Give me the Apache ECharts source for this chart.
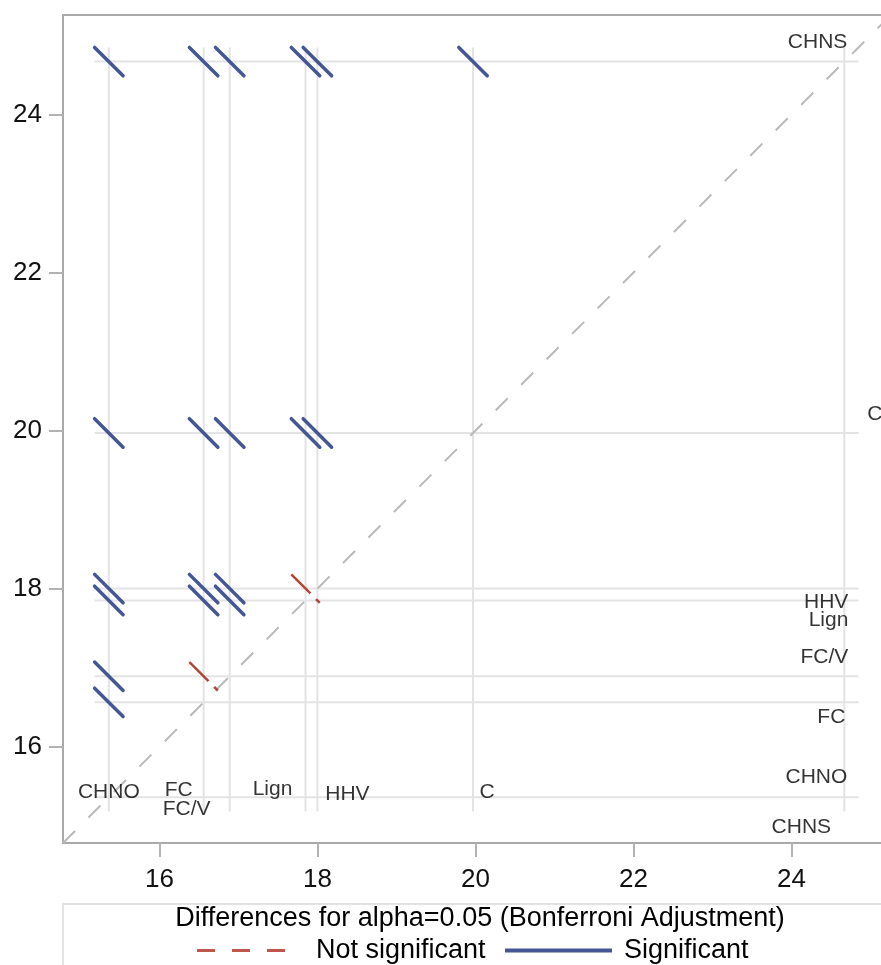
<!DOCTYPE html>
<html><head><meta charset="utf-8">
<script src="https://cdn.jsdelivr.net/npm/echarts@6/dist/echarts.min.js"></script>
<style>html,body{margin:0;padding:0;background:#fff}#c{width:881px;height:965px}</style>
</head><body><div id="c"></div>
<script>
// ---- data ----
const groups = ['CHNO', 'FC', 'FC/V', 'Lign', 'HHV', 'C', 'CHNS'];
const means = [15.36, 16.56, 16.89, 17.85, 18.00, 19.97, 24.67];
const ciHalfWidth = 0.18;                 // half-length of each difference segment (per axis)
const notSignificantPairs = [['FC', 'FC/V'], ['Lign', 'HHV']];
const xTicks = [16, 18, 20, 22, 24];
const yTicks = [16, 18, 20, 22, 24];
const xMin = 14.78, xMax = 25.134;        // plot is cut off at the right edge of the picture
const yMin = 14.78, yMax = 25.26;
const legendTitle = 'Differences for alpha=0.05 (Bonferroni Adjustment)';
const legendNames = ['Not significant', 'Significant'];

// ---- label layout (pixel nudges, SAS collision avoidance) ----
const bottomLabelNudge = { 'CHNO': [0, -5], 'FC': [-25, -7], 'FC/V': [-43, 12], 'Lign': [-33, -8], 'HHV': [30, -3], 'C': [14, -5], 'CHNS': [-43, 30] };
const rightLabelNudge = { 'CHNS': [3, -19, 'right'], 'C': [23, -19, 'left'], 'HHV': [4, 14, 'right'], 'Lign': [4, 20, 'right'], 'FC/V': [4, -19, 'right'], 'FC': [1, 15, 'right'], 'CHNO': [3, -20, 'right'] };

const FONT = 'Liberation Sans, Arial, sans-serif';
const BLUE = '#445694', RED = '#B0473C', REF = '#e3e3e3', FRAME = '#a9a9a9';

const h = ciHalfWidth;
const lo = Math.min(...means) - h, hi = Math.max(...means) + h;
const minMean = Math.min(...means), maxMean = Math.max(...means);
const isNS = (a, b) => notSignificantPairs.some(p => (p[0] === a && p[1] === b) || (p[0] === b && p[1] === a));

const series = [];
// reference lines
means.forEach(m => {
  series.push({ type: 'line', data: [[m, lo], [m, hi]], symbol: 'none', silent: true, z: 1,
    lineStyle: { color: REF, width: 2 } });
  series.push({ type: 'line', data: [[lo, m], [hi, m]], symbol: 'none', silent: true, z: 1,
    lineStyle: { color: REF, width: 2 } });
});
// diagonal
series.push({ type: 'line', data: [[yMin, yMin], [yMax, yMax]], symbol: 'none', silent: true, z: 2,
  lineStyle: { color: '#b9b9b9', width: 2, type: [17, 19] } });
// difference segments
for (let i = 0; i < groups.length; i++) {
  for (let j = i + 1; j < groups.length; j++) {
    const mi = means[i], mj = means[j];
    const ns = isNS(groups[i], groups[j]);
    series.push({
      type: 'line', name: ns ? legendNames[0] : legendNames[1], symbol: 'none', silent: true, z: ns ? 4 : 5,
      data: [[mi - h, mj + h], [mi + h, mj - h]],
      itemStyle: { color: ns ? RED : BLUE },
      lineStyle: ns ? { color: RED, width: 2.5, type: [27, 8] } : { color: BLUE, width: 3.5, cap: 'round' }
    });
  }
}
// bottom labels (for vertical reference lines)
series.push({
  type: 'scatter', silent: true, z: 6, symbolSize: 1, itemStyle: { color: 'transparent' },
  data: groups.map((g, k) => ({ value: [means[k], minMean],
    label: { show: true, position: 'inside', formatter: g, offset: bottomLabelNudge[g],
      fontSize: 21, fontFamily: FONT, color: '#000' } }))
});
// right labels (for horizontal reference lines)
series.push({
  type: 'scatter', silent: true, z: 6, symbolSize: 1, itemStyle: { color: 'transparent' },
  data: groups.map((g, k) => ({ value: [maxMean, means[k]],
    label: { show: true, position: 'inside', formatter: g, align: rightLabelNudge[g][2],
      offset: [rightLabelNudge[g][0], rightLabelNudge[g][1]],
      fontSize: 21, fontFamily: FONT, color: '#000' } }))
});

const axisCommon = (ticks, min, max) => ({
  type: 'value', min, max,
  axisLine: { show: true, onZero: false, lineStyle: { color: FRAME, width: 2 } },
  axisTick: { show: true, length: 14, customValues: ticks, lineStyle: { color: '#b3b3b3', width: 2 } },
  axisLabel: { customValues: ticks, fontSize: 26, fontFamily: FONT, color: '#111' },
  splitLine: { show: false }
});

const xAxisMain = axisCommon(xTicks, xMin, xMax); xAxisMain.axisLabel.margin = 24; xAxisMain.position = 'bottom';
const yAxisMain = axisCommon(yTicks, yMin, yMax); yAxisMain.axisLabel.margin = 21;
const xAxisTop = { type: 'value', min: xMin, max: xMax, position: 'top',
  axisLine: { show: true, onZero: false, lineStyle: { color: FRAME, width: 2 } },
  axisTick: { show: false }, axisLabel: { show: false }, splitLine: { show: false } };

const dashIcon = 'path://M0,0h18v3h-18z M35,0h18v3h-18z M70,0h18v3h-18z';

const chart = echarts.init(document.getElementById('c'), null, { renderer: 'canvas' });
chart.setOption({
  animation: false,
  backgroundColor: '#fff',
  grid: { left: 63, top: 15, right: 0, height: 828, show: false },
  xAxis: [xAxisMain, xAxisTop],
  yAxis: yAxisMain,
  legend: [
    { data: [{ name: legendNames[0], icon: dashIcon, itemStyle: { color: '#c0554b' } }],
      left: 197, top: 937, padding: 0, itemWidth: 88, itemHeight: 3,
      textStyle: { fontSize: 27, fontFamily: FONT, color: '#000', padding: [0, 0, 0, 26] }, selectedMode: false },
    { data: [{ name: legendNames[1], icon: 'rect', itemStyle: { color: BLUE } }],
      left: 505, top: 937, padding: 0, itemWidth: 107, itemHeight: 4,
      textStyle: { fontSize: 27, fontFamily: FONT, color: '#000', padding: [0, 0, 0, 7] }, selectedMode: false }
  ],
  graphic: [
    { type: 'rect', shape: { x: 63, y: 904, width: 840, height: 100 }, style: { fill: 'none', stroke: '#dadada', lineWidth: 1.5 }, silent: true },
    { type: 'text', x: 480, y: 919, style: { text: legendTitle, fontSize: 27, fontFamily: FONT, fill: '#000', textAlign: 'center', textVerticalAlign: 'middle' }, silent: true }
  ],
  series
});
</script></body></html>
